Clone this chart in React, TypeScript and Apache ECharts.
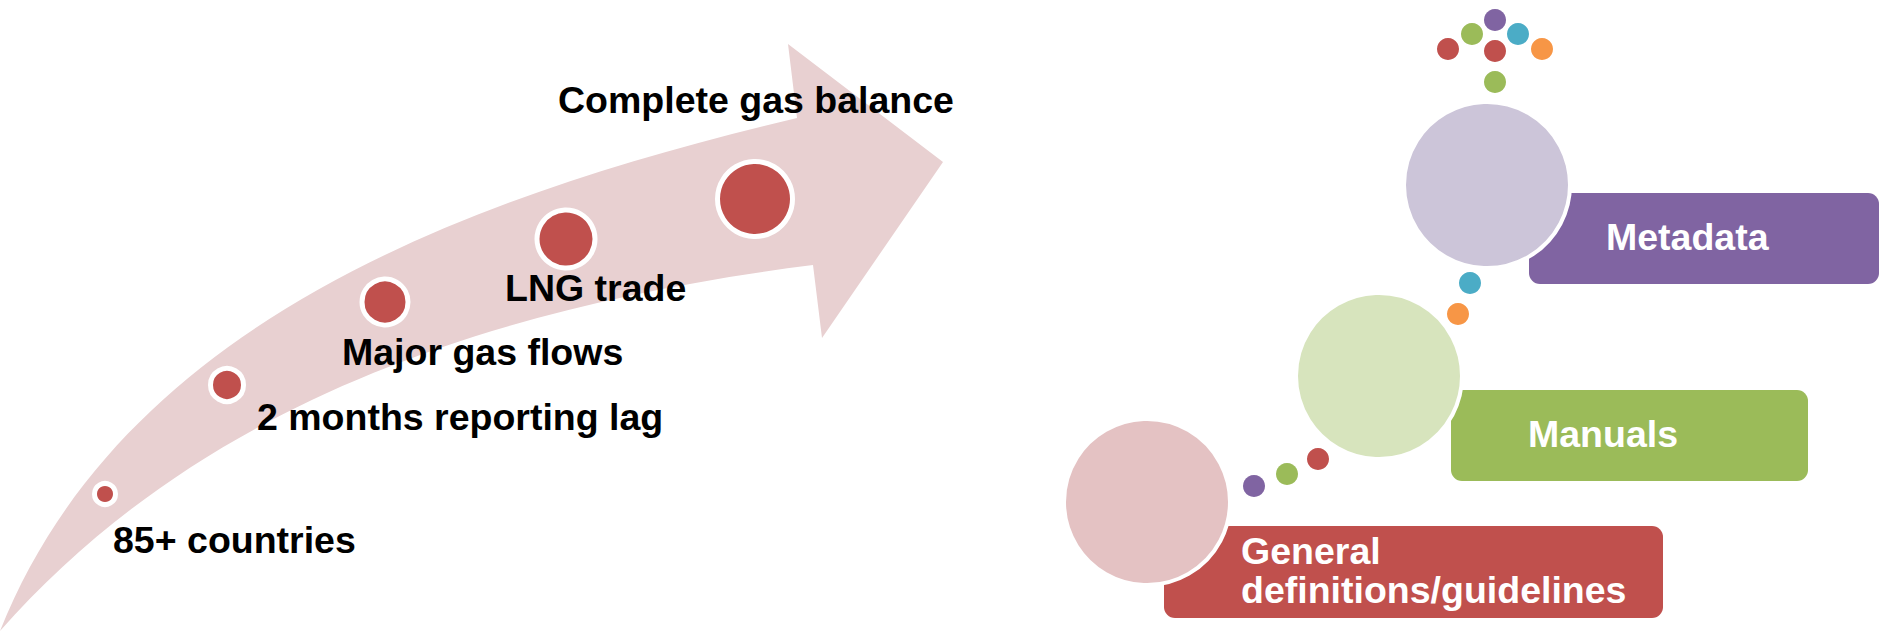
import React, { useEffect, useRef } from "react";
import * as echarts from "echarts";

// ---------- Diagram coordinate space: 1880 x 631 (y grows downward) ----------
const WIDTH = 1880;
const HEIGHT = 631;

// Arrow outline (left part of the picture)
const arrowTail = [0, 631];
const arrowUpperCurve = [[120, 330], [450, 200], [797, 118]];
const arrowHead = [[788, 44], [943, 162], [822, 338], [813, 265]];
const arrowLowerCurve = [[416, 315], [166, 443], [0, 631]];

// Milestones along the arrow
const milestoneLabels = [
  "85+ countries",
  "2 months reporting lag",
  "Major gas flows",
  "LNG trade",
  "Complete gas balance",
];
const milestoneX = [105, 227, 385, 566, 755];
const milestoneY = [494, 385, 302, 239, 199];
const milestoneSize = [21, 33, 46, 58, 75];
const milestoneLabelX = [113, 257, 342, 505, 558];
const milestoneLabelY = [540, 417, 352, 288, 100];

// Tiers (right part of the picture)
const tierLabels = ["General\ndefinitions/guidelines", "Manuals", "Metadata"];
const tierColors = ["#C0504D", "#9BBB59", "#8064A2"];
const tierCircleColors = ["#E4C2C3", "#D7E4BD", "#CCC5D9"];
const tierCircleX = [1147, 1379, 1487];
const tierCircleY = [502, 376, 185];
const tierBoxLeft = [1164, 1451, 1529];
const tierBoxRight = [1663, 1808, 1879];
const tierBoxTop = [526, 390, 193];
const tierBoxBottom = [618, 481, 284];

// Small coloured dots
const dotX = [1254, 1287, 1318, 1458, 1470, 1495, 1472, 1518, 1448, 1495, 1542, 1495];
const dotY = [486, 474, 459, 314, 283, 20, 34, 34, 49, 51, 49, 82];
const dotColors = [
  "#8064A2", "#9BBB59", "#C0504D", "#F79646", "#4BACC6",
  "#8064A2", "#9BBB59", "#4BACC6", "#C0504D", "#C0504D", "#F79646", "#9BBB59",
];

const FONT_FAMILY = '"Liberation Sans", Arial, Helvetica, sans-serif';
const FONT_SIZE = 37.5;
const ACCENT = "#C0504D";
const ARROW_FILL = "#E8D0D1";

function buildOption(): echarts.EChartsCoreOption {
  return {
    animation: false,
    backgroundColor: "#ffffff",
    grid: { left: 0, right: 0, top: 0, bottom: 0, containLabel: false },
    xAxis: { type: "value", min: 0, max: WIDTH, show: false },
    yAxis: { type: "value", min: 0, max: HEIGHT, inverse: true, show: false },
    series: [
      {
        name: "arrow",
        type: "custom",
        coordinateSystem: "cartesian2d",
        silent: true,
        clip: false,
        z: 1,
        data: [arrowTail],
        renderItem: (_params: any, api: any) => {
          const c = (p: number[]) => api.coord(p);
          const s = c(arrowTail);
          let d = `M ${s[0]} ${s[1]} C`;
          arrowUpperCurve.forEach((p) => {
            const q = c(p);
            d += ` ${q[0]} ${q[1]}`;
          });
          arrowHead.forEach((p) => {
            const q = c(p);
            d += ` L ${q[0]} ${q[1]}`;
          });
          d += " C";
          arrowLowerCurve.forEach((p) => {
            const q = c(p);
            d += ` ${q[0]} ${q[1]}`;
          });
          d += " Z";
          return {
            type: "path",
            shape: { pathData: d },
            style: { fill: ARROW_FILL, stroke: "none" },
          };
        },
      },
      {
        name: "milestones",
        type: "scatter",
        silent: true,
        z: 2,
        symbol: "circle",
        data: milestoneX.map((x, i) => ({
          value: [x, milestoneY[i]],
          symbolSize: milestoneSize[i],
        })),
        itemStyle: { color: ACCENT, borderColor: "#ffffff", borderWidth: 5, opacity: 1 },
      },
      {
        name: "milestoneLabels",
        type: "custom",
        coordinateSystem: "cartesian2d",
        silent: true,
        clip: false,
        z: 3,
        data: milestoneLabelX.map((x, i) => [x, milestoneLabelY[i]]),
        renderItem: (params: any, api: any) => {
          const p = api.coord([api.value(0), api.value(1)]);
          return {
            type: "text",
            x: p[0],
            y: p[1],
            style: {
              text: milestoneLabels[params.dataIndex],
              fill: "#000000",
              fontFamily: FONT_FAMILY,
              fontWeight: "bold",
              fontSize: FONT_SIZE,
              align: "left",
              verticalAlign: "middle",
            },
          };
        },
      },
      {
        name: "tierBoxes",
        type: "custom",
        coordinateSystem: "cartesian2d",
        silent: true,
        clip: false,
        z: 4,
        data: tierBoxLeft.map((l, i) => [l, tierBoxTop[i], tierBoxRight[i], tierBoxBottom[i]]),
        renderItem: (params: any, api: any) => {
          const i = params.dataIndex;
          const a = api.coord([api.value(0), api.value(1)]);
          const b = api.coord([api.value(2), api.value(3)]);
          return {
            type: "group",
            children: [
              {
                type: "rect",
                shape: { x: a[0], y: a[1], width: b[0] - a[0], height: b[1] - a[1], r: 11 },
                style: { fill: tierColors[i] },
              },
              {
                type: "text",
                x: a[0] + 77,
                y: (a[1] + b[1]) / 2 - 1.5,
                style: {
                  text: tierLabels[i],
                  fill: "#ffffff",
                  fontFamily: FONT_FAMILY,
                  fontWeight: "bold",
                  fontSize: FONT_SIZE,
                  lineHeight: 39,
                  align: "left",
                  verticalAlign: "middle",
                },
              },
            ],
          };
        },
      },
      {
        name: "tierCircles",
        type: "scatter",
        silent: true,
        z: 5,
        symbol: "circle",
        symbolSize: 166,
        data: tierCircleX.map((x, i) => ({
          value: [x, tierCircleY[i]],
          itemStyle: { color: tierCircleColors[i] },
        })),
        itemStyle: { borderColor: "#ffffff", borderWidth: 4, opacity: 1 },
      },
      {
        name: "dots",
        type: "scatter",
        silent: true,
        z: 6,
        symbol: "circle",
        symbolSize: 22,
        data: dotX.map((x, i) => ({
          value: [x, dotY[i]],
          itemStyle: { color: dotColors[i] },
        })),
        itemStyle: { opacity: 1 },
      },
    ],
  };
}

export default function App() {
  const ref = useRef<HTMLDivElement>(null);
  useEffect(() => {
    document.body.style.margin = "0";
    if (!ref.current) return;
    const chart = echarts.init(ref.current, null, { renderer: "svg" });
    chart.setOption(buildOption());
    return () => {
      chart.dispose();
    };
  }, []);
  return (
    <div
      ref={ref}
      style={{ position: "absolute", left: 0, top: 0, width: WIDTH, height: HEIGHT, background: "#ffffff" }}
    />
  );
}
